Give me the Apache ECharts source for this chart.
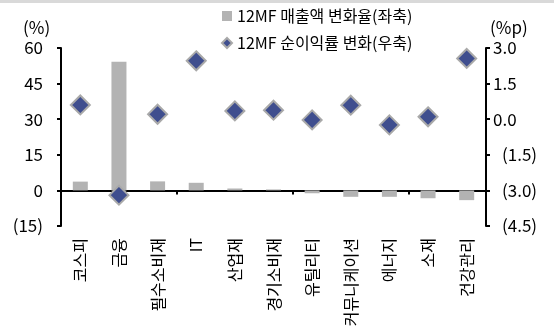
<!DOCTYPE html>
<html>
<head>
<meta charset="utf-8">
<script src="https://cdn.jsdelivr.net/npm/echarts@6/dist/echarts.min.js"></script>
<style>
html,body{margin:0;padding:0;background:#fff;}
#c{width:554px;height:334px;}
</style>
</head>
<body>
<div id="c"></div>
<script>
const categories = ['코스피','금융','필수소비재','IT','산업재','경기소비재','유틸리티','커뮤니케이션','에너지','소재','건강관리'];
const salesChange = [3.7, 54.2, 3.8, 3.2, 0.8, 0.4, -1.2, -2.7, -2.7, -3.3, -4.1];
const marginChange = [0.6, -3.2, 0.21, 2.46, 0.35, 0.38, -0.03, 0.59, -0.24, 0.1, 2.56];
const leftTickLabels = ['(15)','0','15','30','45','60'];
const rightTickLabels = ['(4.5)','(3.0)','(1.5)','0.0','1.5','3.0'];
const seriesNames = ['12MF 매출액 변화율(좌축)','12MF 순이익률 변화(우축)'];
const axisUnits = ['(%)','(%p)'];

const FONT = '"Noto Sans CJK KR", "Noto Sans", sans-serif';
const chart = echarts.init(document.getElementById('c'), null, {renderer:'canvas'});
const axisLineStyle = {color:'#000', width:2};

chart.setOption({
  animation:false,
  backgroundColor:'#fff',
  textStyle:{fontFamily:FONT},
  graphic:[
    {type:'rect', shape:{x:0,y:0,width:554,height:3}, style:{fill:'#d9d9d9'}},
    {type:'text', left:23, top:19, style:{text:axisUnits[0], font:'17px '+FONT, fill:'#000'}},
    {type:'text', left:490, top:19, style:{text:axisUnits[1], font:'17px '+FONT, fill:'#000'}}
  ],
  legend:{
    orient:'vertical', left:216, top:3, itemWidth:10, itemHeight:10, itemGap:11,
    textStyle:{fontSize:16, color:'#000', fontFamily:FONT},
    data:[{name:seriesNames[0], icon:'rect'},{name:seriesNames[1], icon:'diamond'}]
  },
  grid:{left:61, right:68, top:48, bottom:108, containLabel:false},
  xAxis:[
    {type:'category', data:categories, position:'bottom',
     axisLine:{show:false, onZero:false}, axisTick:{show:false},
     axisLabel:{rotate:90, margin:12, fontSize:16, color:'#000', fontFamily:FONT, interval:0}},
    {type:'category', data:categories, position:'bottom',
     axisLine:{show:true, onZero:true, onZeroAxisIndex:0, lineStyle:axisLineStyle},
     axisTick:{show:true, length:4, lineStyle:axisLineStyle},
     axisLabel:{show:false}}
  ],
  yAxis:[
    {type:'value', min:-15, max:60, interval:15, position:'left',
     axisLine:{show:true, lineStyle:axisLineStyle},
     axisTick:{show:true, length:4, lineStyle:axisLineStyle},
     splitLine:{show:false},
     axisLabel:{margin:18, fontSize:17, color:'#000', fontFamily:FONT,
       formatter:(v,i)=>leftTickLabels[i]}},
    {type:'value', min:-4.5, max:3.0, interval:1.5, position:'right',
     axisLine:{show:true, lineStyle:axisLineStyle},
     axisTick:{show:true, length:4, lineStyle:axisLineStyle},
     splitLine:{show:false},
     axisLabel:{margin:7, fontSize:17, color:'#000', fontFamily:FONT,
       formatter:(v,i)=>{const s=rightTickLabels[i]; return s.charAt(0)==='(' ? '{n|'+s+'}' : s;},
       rich:{n:{padding:[0,0,0,9], fontSize:17, color:'#000', fontFamily:FONT}}}}
  ],
  series:[
    {name:seriesNames[0], type:'bar', xAxisIndex:0, yAxisIndex:0, data:salesChange,
     barWidth:15, itemStyle:{color:'#b3b3b3'}, z:2},
    {name:seriesNames[1], type:'scatter', xAxisIndex:0, yAxisIndex:1, data:marginChange,
     symbol:'diamond', symbolSize:19,
     itemStyle:{color:'#3f4e8e', borderColor:'#a9a9a9', borderWidth:2, opacity:1}, z:5}
  ]
});
</script>
</body>
</html>
